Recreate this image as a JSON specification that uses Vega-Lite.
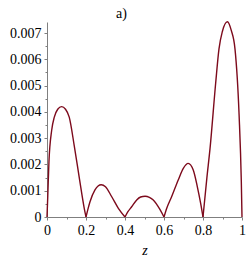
{
  "$schema": "https://vega.github.io/schema/vega-lite/v6.json",
  "width": 195,
  "height": 195,
  "autosize": "none",
  "padding": {"left": 47, "top": 22, "right": 7, "bottom": 43},
  "background": "white",
  "title": {"text": "a)", "anchor": "middle", "frame": "group", "dx": -23, "dy": 18, "baseline": "bottom", "offset": 2, "font": "Liberation Serif, DejaVu Serif, serif", "fontSize": 14, "fontWeight": "normal", "color": "black"},
  "config": {"view": {"stroke": null}},
  "data": {"values": [
    {"z": 0, "v": 0, "arch": 1},
    {"z": 0.004, "v": 0.0008, "arch": 1},
    {"z": 0.01, "v": 0.0021, "arch": 1},
    {"z": 0.024, "v": 0.0033, "arch": 1},
    {"z": 0.0375, "v": 0.0038, "arch": 1},
    {"z": 0.055, "v": 0.0041, "arch": 1},
    {"z": 0.075, "v": 0.0042, "arch": 1},
    {"z": 0.095, "v": 0.0041, "arch": 1},
    {"z": 0.114, "v": 0.0038, "arch": 1},
    {"z": 0.14, "v": 0.0027, "arch": 1},
    {"z": 0.166, "v": 0.00147, "arch": 1},
    {"z": 0.191, "v": 0.00033, "arch": 1},
    {"z": 0.2, "v": 0, "arch": 1},
    {"z": 0.2, "v": 0, "arch": 2},
    {"z": 0.21, "v": 0.0003, "arch": 2},
    {"z": 0.2205, "v": 0.00058, "arch": 2},
    {"z": 0.246, "v": 0.00103, "arch": 2},
    {"z": 0.262, "v": 0.00118, "arch": 2},
    {"z": 0.278, "v": 0.00123, "arch": 2},
    {"z": 0.3, "v": 0.00115, "arch": 2},
    {"z": 0.332, "v": 0.00077, "arch": 2},
    {"z": 0.366, "v": 0.00033, "arch": 2},
    {"z": 0.4, "v": 0, "arch": 2},
    {"z": 0.4, "v": 0, "arch": 3},
    {"z": 0.415, "v": 0.0002, "arch": 3},
    {"z": 0.434, "v": 0.00039, "arch": 3},
    {"z": 0.46, "v": 0.00065, "arch": 3},
    {"z": 0.48, "v": 0.00076, "arch": 3},
    {"z": 0.503, "v": 0.00079, "arch": 3},
    {"z": 0.525, "v": 0.00075, "arch": 3},
    {"z": 0.545, "v": 0.00065, "arch": 3},
    {"z": 0.579, "v": 0.00029, "arch": 3},
    {"z": 0.6, "v": 0, "arch": 3},
    {"z": 0.6, "v": 0, "arch": 4},
    {"z": 0.615, "v": 0.00035, "arch": 4},
    {"z": 0.639, "v": 0.00077, "arch": 4},
    {"z": 0.673, "v": 0.00141, "arch": 4},
    {"z": 0.699, "v": 0.00185, "arch": 4},
    {"z": 0.724, "v": 0.00204, "arch": 4},
    {"z": 0.75, "v": 0.00179, "arch": 4},
    {"z": 0.771, "v": 0.00115, "arch": 4},
    {"z": 0.788, "v": 0.00052, "arch": 4},
    {"z": 0.8, "v": 0, "arch": 4},
    {"z": 0.8, "v": 0, "arch": 5},
    {"z": 0.82, "v": 0.0015, "arch": 5},
    {"z": 0.836, "v": 0.0026, "arch": 5},
    {"z": 0.865, "v": 0.0051, "arch": 5},
    {"z": 0.882, "v": 0.0064, "arch": 5},
    {"z": 0.899, "v": 0.00705, "arch": 5},
    {"z": 0.925, "v": 0.00743, "arch": 5},
    {"z": 0.945, "v": 0.0071, "arch": 5},
    {"z": 0.964, "v": 0.0064, "arch": 5},
    {"z": 0.985, "v": 0.0039, "arch": 5},
    {"z": 0.9965, "v": 0.00134, "arch": 5},
    {"z": 1, "v": 0, "arch": 5}
  ]},
  "mark": {"type": "line", "interpolate": "monotone", "color": "#7d0a1c", "strokeWidth": 1.4, "clip": false},
  "encoding": {
    "x": {"field": "z", "type": "quantitative", "scale": {"domain": [0, 1], "nice": false},
      "axis": {"values": [0, 0.1, 0.2, 0.3, 0.4, 0.5, 0.6, 0.7, 0.8, 0.9, 1],
        "labelExpr": "round(datum.value*10) % 2 == 0 ? format(datum.value, '~g') : ''",
        "grid": false, "domainColor": "#7f7f7f", "tickColor": "#7f7f7f",
        "tickSize": {"condition": {"test": "round(datum.value*10) % 2 == 0", "value": 3}, "value": 2},
        "labelFont": "Liberation Serif, DejaVu Serif, serif", "labelFontSize": 14, "labelColor": "black", "labelPadding": 3,
        "labelFlush": false, "labelOverlap": false,
        "title": "z", "titleFont": "Liberation Serif, DejaVu Serif, serif", "titleFontSize": 14, "titleFontStyle": "italic", "titleFontWeight": "normal", "titleColor": "black", "titlePadding": 6}},
    "y": {"field": "v", "type": "quantitative", "scale": {"domain": [0, 0.00742], "nice": false, "zero": true},
      "axis": {"values": [0, 0.0005, 0.001, 0.0015, 0.002, 0.0025, 0.003, 0.0035, 0.004, 0.0045, 0.005, 0.0055, 0.006, 0.0065, 0.007],
        "labelExpr": "round(datum.value*10000) % 10 == 0 ? (datum.value == 0 ? '0' : format(datum.value, '.3f')) : ''",
        "grid": false, "domainColor": "#7f7f7f", "tickColor": "#7f7f7f",
        "tickSize": {"condition": {"test": "round(datum.value*10000) % 10 == 0", "value": 3}, "value": 2},
        "labelFont": "Liberation Serif, DejaVu Serif, serif", "labelFontSize": 14, "labelColor": "black", "labelPadding": 3,
        "labelFlush": false, "labelOverlap": false, "title": null}},
    "detail": {"field": "arch", "type": "nominal"}
  }
}
